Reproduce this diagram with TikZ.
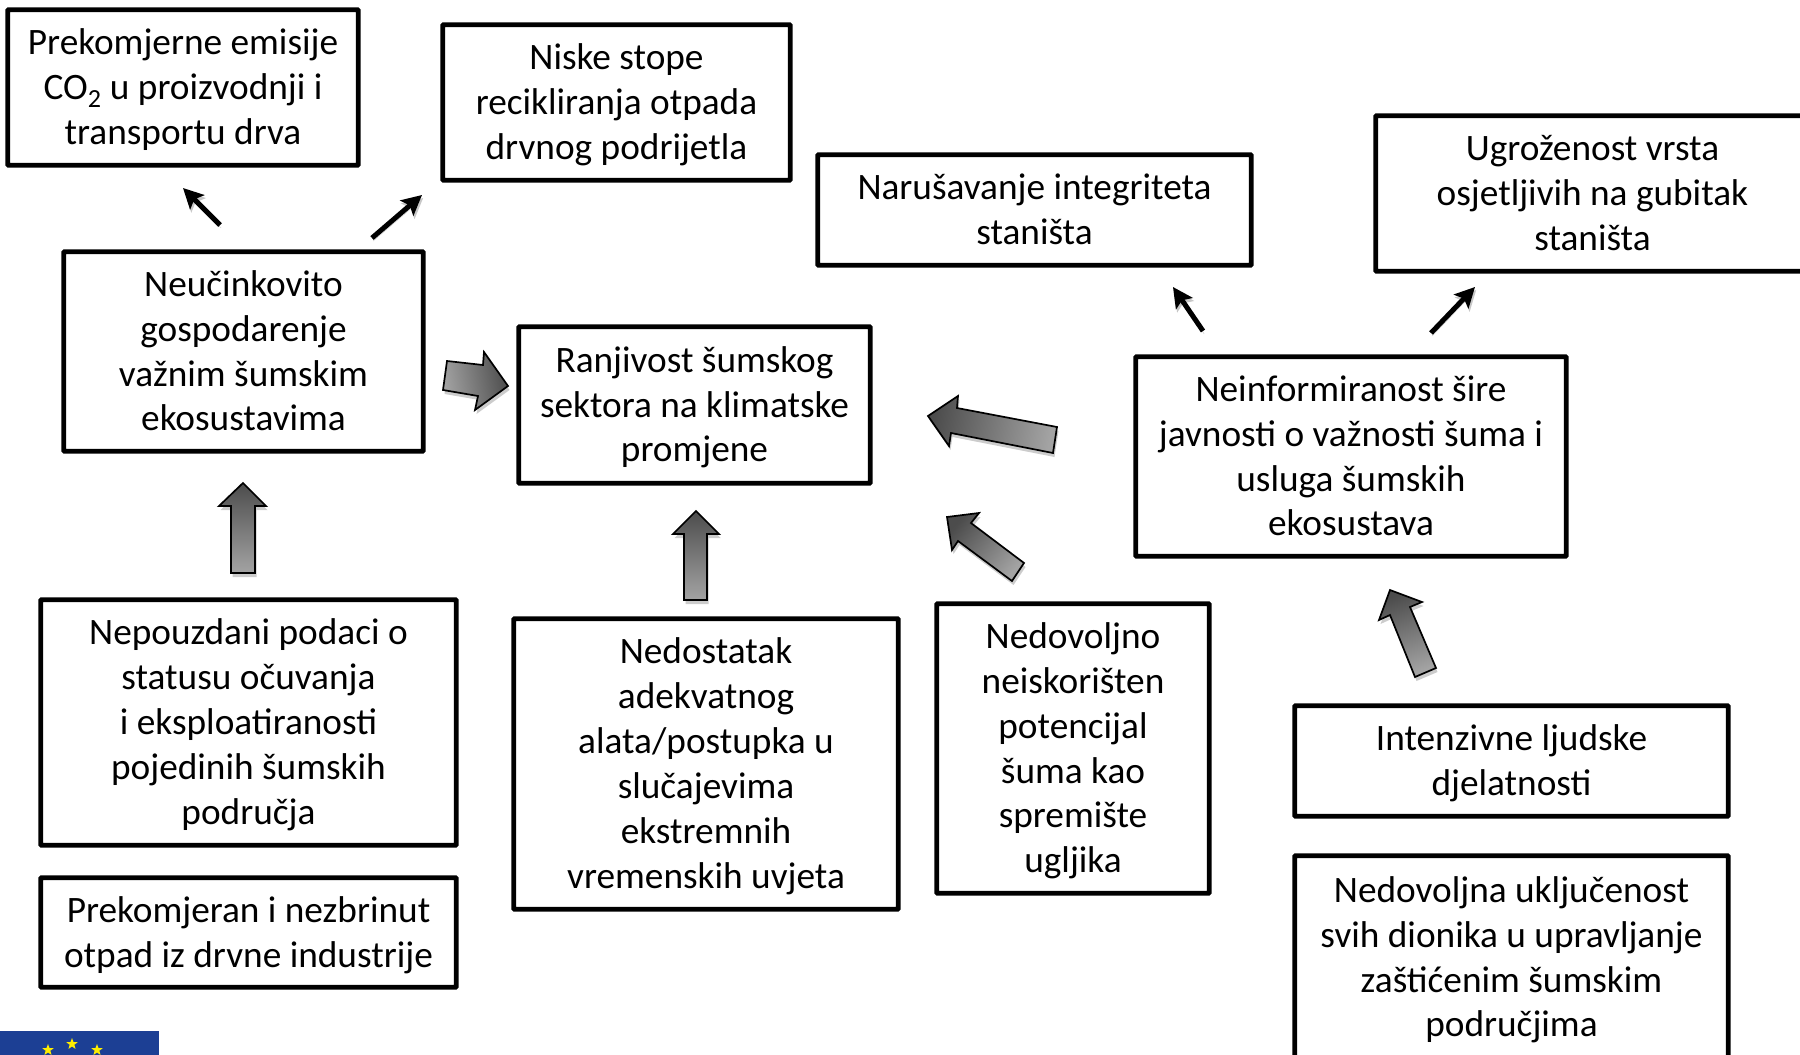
\documentclass[tikz,border=0pt]{standalone}
\usepackage{fontspec}
\setmainfont{Carlito}
\usetikzlibrary{arrows.meta,shadows,shapes.geometric}
\definecolor{euflag}{HTML}{1C3F94}
\definecolor{eustar}{HTML}{FFED00}
\tikzset{
  boxnode/.style={draw=black,line width=4.8pt,fill=white,align=center,inner sep=0pt,rounded corners=0.8pt,
    font=\fontsize{37.3}{44.9}\selectfont},
  softshadow/.style={general shadow={fill=black,opacity=.2,shadow xshift=1.5pt,shadow yshift=-4pt}},
  blockarrow/.style={softshadow,draw=black,line width=1.7pt,miter limit=10,top color=black!70,bottom color=black!36},
  thinarrow/.style={line width=5pt,black,-{Stealth[length=20pt,width=20pt,inset=4pt]},
    preaction={draw=black!22,transform canvas={xshift=1.2pt,yshift=-3pt}}},
}
\newcommand{\boxat}[6]{%
  \pgfmathsetmacro{\bcx}{(#2+#4)/2}\pgfmathsetmacro{\bcy}{(#3+#5)/2}%
  \pgfmathsetmacro{\bw}{#4-#2-1.5}\pgfmathsetmacro{\bh}{#5-#3-1.5}%
  \node[boxnode,minimum width=\bw pt,minimum height=\bh pt] (#1) at (\bcx,\bcy)
    {\smash{\raisebox{-.25em}{\begin{tabular}{@{}c@{}}#6\end{tabular}}}};}
\begin{document}
\begin{tikzpicture}[x=1pt,y=-1pt]
\useasboundingbox (0,0) rectangle (1800,1055);
\clip (0,0) rectangle (1800,1055);
\boxat{emisije}{7}{9}{359}{166}{Prekomjerne emisije\\CO\textsubscript{2} u proizvodnji i\\transportu drva}
\boxat{niske}{442}{24}{791}{181}{Niske stope\\recikliranja otpada\\drvnog podrijetla}
\boxat{narus}{817}{154}{1252}{266}{Narušavanje integriteta\\staništa}
\boxat{ugroz}{1375}{115}{1810}{272}{Ugroženost vrsta\\osjetljivih na gubitak\\staništa}
\boxat{neucin}{63}{251}{424}{452}{Neučinkovito\\gospodarenje\\važnim šumskim\\ekosustavima}
\boxat{ranjiv}{518}{326}{871}{484}{Ranjivost šumskog\\sektora na klimatske\\promjene}
\boxat{neinf}{1135}{356}{1567}{557}{Neinformiranost šire\\javnosti o važnosti šuma i\\usluga šumskih\\ekosustava}
\boxat{nepouz}{40}{599}{457}{846}{Nepouzdani podaci o\\statusu očuvanja\\i eksploatiranosti\\pojedinih šumskih\\područja}
\boxat{otpad}{40}{877}{457}{988}{Prekomjeran i nezbrinut\\otpad iz drvne industrije}
\boxat{nedost}{513}{618}{899}{910}{Nedostatak\\adekvatnog\\alata/postupka u\\slučajevima\\ekstremnih\\vremenskih uvjeta}
\boxat{nedov}{936}{603}{1210}{894}{Nedovoljno\\neiskorišten\\potencijal\\šuma kao\\spremište\\ugljika}
\boxat{intenz}{1294}{705}{1729}{817}{Intenzivne ljudske\\djelatnosti}
\boxat{uklj}{1294}{855}{1729}{1060}{Nedovoljna uključenost\\svih dionika u upravljanje\\zaštićenim šumskim\\područjima}
% thin arrows
\coordinate (ta) at (220,225); \coordinate (tb) at (183,188);
\coordinate (tc) at (372,238); \coordinate (td) at (422,195);
\coordinate (te) at (1203,331); \coordinate (tf) at (1173,287);
\coordinate (tg) at (1431,333); \coordinate (th) at (1475,287);
\draw[thinarrow] (ta) -- (tb);
\draw[thinarrow] (tc) -- (td);
\draw[thinarrow] (te) -- (tf);
\draw[thinarrow] (tg) -- (th);
% block arrows
\path[blockarrow,shading angle=-80] (447,361) -- (483,365) -- (484,352) -- (508,386) -- (475,410) -- (478,396) -- (443,390) -- cycle;
\path[blockarrow,shading angle=0] (243,483) -- (219,506) -- (231,506) -- (231,573) -- (255,573) -- (255,506) -- (266,506) -- cycle;
\path[blockarrow,shading angle=0] (696,511) -- (673,534) -- (684,534) -- (684,600) -- (707,600) -- (707,534) -- (719,534) -- cycle;
\path[blockarrow,shading angle=80] (928,416) -- (958,396) -- (957,408) -- (1057,427) -- (1053,453) -- (951,433) -- (949,446) -- cycle;
\path[blockarrow,shading angle=50] (947,517) -- (979,513) -- (971,523) -- (1024,563) -- (1012,581) -- (958,541) -- (952,550) -- cycle;
\path[blockarrow,shading angle=20] (1390,590) -- (1422,602) -- (1410,607) -- (1436,668) -- (1415,677) -- (1390,615) -- (1379,620) -- cycle;
% flag
\fill[euflag] (0,1031) rectangle (159,1060);
\foreach \n/\sx/\sy in {a/48/1050,b/72/1044,c/97/1050}
  \node[star,star points=5,star point ratio=2.4,fill=eustar,inner sep=0pt,minimum size=12pt] (star\n) at (\sx,\sy) {};
\end{tikzpicture}
\end{document}
